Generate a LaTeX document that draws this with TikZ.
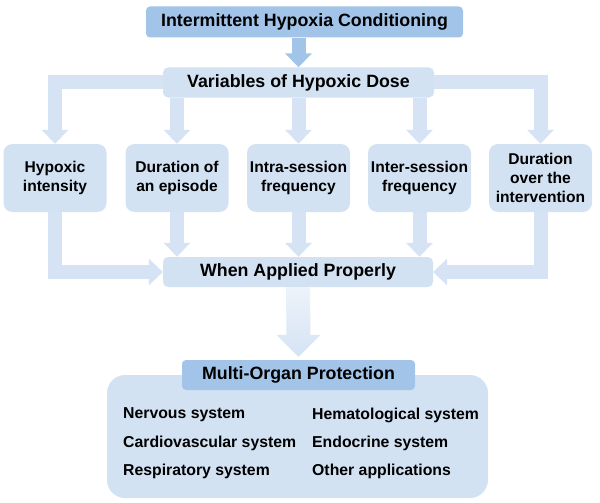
\documentclass[tikz,border=0pt]{standalone}
\usepackage{fontspec}
\setmainfont{Liberation Sans}
\usetikzlibrary{positioning,arrows.meta,calc}
\definecolor{hxmid}{HTML}{A2C4E8}
\definecolor{hxlight}{HTML}{D3E2F3}
\definecolor{hxbar}{HTML}{D5E3F4}
\definecolor{hxfade}{HTML}{EDF3FA}
\definecolor{hxdeep}{HTML}{BBD3EE}
\tikzset{
  headbox/.style={draw=none, rounded corners=4pt, fill=hxmid, inner sep=0pt, align=center, font=\bfseries\fontsize{17.8}{20}\selectfont},
  stagebox/.style={draw=none, rounded corners=5pt, fill=hxlight, inner sep=0pt, align=center, font=\bfseries\fontsize{17.8}{20}\selectfont},
  varbox/.style={draw=none, rounded corners=9pt, fill=hxlight, minimum width=103pt, minimum height=68pt, inner sep=0pt, align=center, font=\bfseries\fontsize{15.6}{19}\selectfont},
  organbox/.style={draw=none, rounded corners=18pt, fill=hxlight, minimum width=381pt, minimum height=123pt, inner sep=0pt},
  organitem/.style={anchor=west, inner sep=0pt, font=\bfseries\fontsize{15.8}{19}\selectfont},
  flowbar/.style={draw=hxbar, line width=14pt, -{Triangle[length=14pt, width=26pt]}}
}
\begin{document}
\begin{tikzpicture}[x=1pt, y=-1pt]
  \useasboundingbox (0,0) rectangle (600,503);
  \node[headbox, minimum width=317pt, minimum height=31pt] (ihc) at (304.5,22) {Intermittent Hypoxia Conditioning};
  \node[stagebox, minimum width=271pt, minimum height=30pt] (dose) at (298.5,82.5) {Variables of Hypoxic Dose};
  \node[varbox] (b1) at (55,178) {Hypoxic\\intensity};
  \node[varbox] (b2) at (177,178) {Duration of\\an episode};
  \node[varbox] (b3) at (298.5,178) {Intra-session\\frequency};
  \node[varbox] (b4) at (419.5,178) {Inter-session\\frequency};
  \node[varbox] (b5) at (540.5,178) {Duration\\over the\\intervention};
  \node[stagebox, minimum width=270pt, minimum height=30pt] (when) at (298,272) {When Applied Properly};
  \node[organbox] (organs) at (297.5,436.5) {};
  \node[headbox, minimum width=233pt, minimum height=30pt] (mop) at (298.5,375) {Multi-Organ Protection};
  \node[organitem] (o1) at (123,415) {Nervous system};
  \node[organitem] (o2) at (123,443) {Cardiovascular system};
  \node[organitem] (o3) at (123,471.5) {Respiratory system};
  \node[organitem] (o4) at (312,415) {Hematological system};
  \node[organitem] (o5) at (312,443) {Endocrine system};
  \node[organitem] (o6) at (312,471.5) {Other applications};
  \draw[flowbar, draw=hxmid] (dose.north |- ihc.south) -- (dose.north);
  \draw[flowbar] (dose.west) -| (b1.north);
  \draw[flowbar] (dose.east) -| (b5.north);
  \foreach \b in {b2,b3,b4} {
    \draw[flowbar] (dose.south -| \b) -- (\b.north);
    \draw[flowbar] (\b.south) -- (\b.south |- when.north);
  }
  \draw[flowbar] (b1.south) |- (when.west);
  \draw[flowbar] (b5.south) |- (when.east);
  \shade[top color=hxfade, middle color=hxdeep, bottom color=hxbar]
    ($(when.south)+(-12,0)$) -- ($(mop.north)+(-12,-25)$) -- ($(mop.north)+(-22,-25)$)
    -- ($(mop.north)+(0,-3)$) -- ($(mop.north)+(22,-25)$) -- ($(mop.north)+(12,-25)$)
    -- ($(when.south)+(12,0)$) -- cycle;
\end{tikzpicture}
\end{document}
